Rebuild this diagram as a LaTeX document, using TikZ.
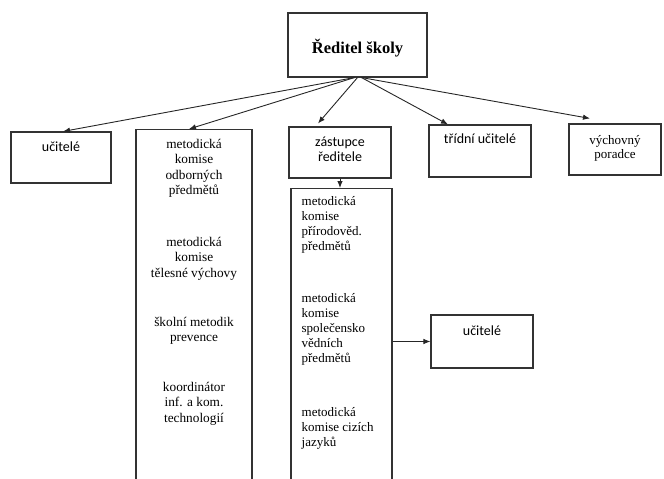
\documentclass[tikz,border=0pt]{standalone}
\usepackage{fontspec}
\setmainfont{Liberation Serif}
\newfontfamily\calibri{Carlito}
\usepackage{tikz}
\usetikzlibrary{arrows,arrows.meta}
\usetikzlibrary{positioning}
\tikzset{font={\fontsize{13.3pt}{15.5pt}\selectfont}}

\begin{document}
\begin{tikzpicture}[x=1pt,y=-1pt,
box/.style={draw=black!80,line width=1.1pt,rectangle,inner sep=0pt},
lbl/.style={inner sep=0pt,align=center},
sans/.style={font={\calibri\fontsize{14pt}{15pt}\selectfont}},
arr/.style={-{Latex[length=7pt,width=5.5pt]},draw=black!85,line width=0.9pt}
]
\useasboundingbox (0,0) rectangle (664,479);

\node[box,minimum width=139pt,minimum height=64pt] (r) at (357.5,45) {};
\node[lbl,font={\fontsize{16.5pt}{18pt}\selectfont\bfseries}] (rt) at ([yshift=-3.5pt]r.center) {Ředitel školy};

\node[box,minimum width=100pt,minimum height=51pt] (uc1) at (61,157.5) {};
\node[lbl,sans,below=10pt of uc1.north] (uc1t) {učitelé};

\node[box,minimum width=116pt,minimum height=361pt,anchor=north] (mko) at (194,129) {};
\node[lbl,below=10pt of mko.north] (mkot) {metodická\\komise\\odborných\\předmětů\\[36pt]metodická\\komise\\tělesné výchovy\\[33.5pt]školní metodik\\prevence\\[34pt]koordinátor\\inf. a kom.\\technologií};

\node[box,minimum width=102pt,minimum height=51pt] (zas) at (340,152.5) {};
\node[lbl,sans,below=10.5pt of zas.north] (zast) {zástupce\\ředitele};

\node[box,minimum width=101pt,minimum height=302pt,anchor=north] (mkp) at (341.5,188) {};
\node[lbl,align=left,anchor=north west,font={\fontsize{13pt}{15pt}\selectfont}] (mkpt) at ([xshift=11pt,yshift=-8pt]mkp.north west) {metodická\\komise\\přírodověd.\\předmětů\\[37pt]metodická\\komise\\společensko\\vědních\\předmětů\\[39pt]metodická\\komise cizích\\jazyků};

\node[box,minimum width=102pt,minimum height=52pt] (tu) at (480,151) {};
\node[lbl,sans,below=9pt of tu.north] (tut) {třídní učitelé};

\node[box,minimum width=92pt,minimum height=51pt] (vp) at (615,149.5) {};
\node[lbl,font={\fontsize{13pt}{14pt}\selectfont},below=11.5pt of vp.north] (vpt) {výchovný\\poradce};

\node[box,minimum width=102pt,minimum height=53pt] (uc2) at (482,341.5) {};
\node[lbl,sans,below=11pt of uc2.north] (uc2t) {učitelé};

\draw[arr] ([xshift=-3pt]r.south) -- ([xshift=2pt]uc1.north);
\draw[arr] ([xshift=-3pt]r.south) -- ([xshift=-5pt]mko.north);
\draw[arr] (r.south) -- ([xshift=-22pt,yshift=3pt]zas.north);
\draw[arr] ([xshift=4pt]r.south) -- ([xshift=-32pt]tu.north);
\draw[arr] ([xshift=4pt]r.south) -- ([xshift=-25pt,yshift=5pt]vp.north);
\draw[arr] (zas.south) -- (zas.south |- mkp.north);
\draw[arr] (uc2.west -| mkp.east) -- (uc2.west);
\end{tikzpicture}
\end{document}
